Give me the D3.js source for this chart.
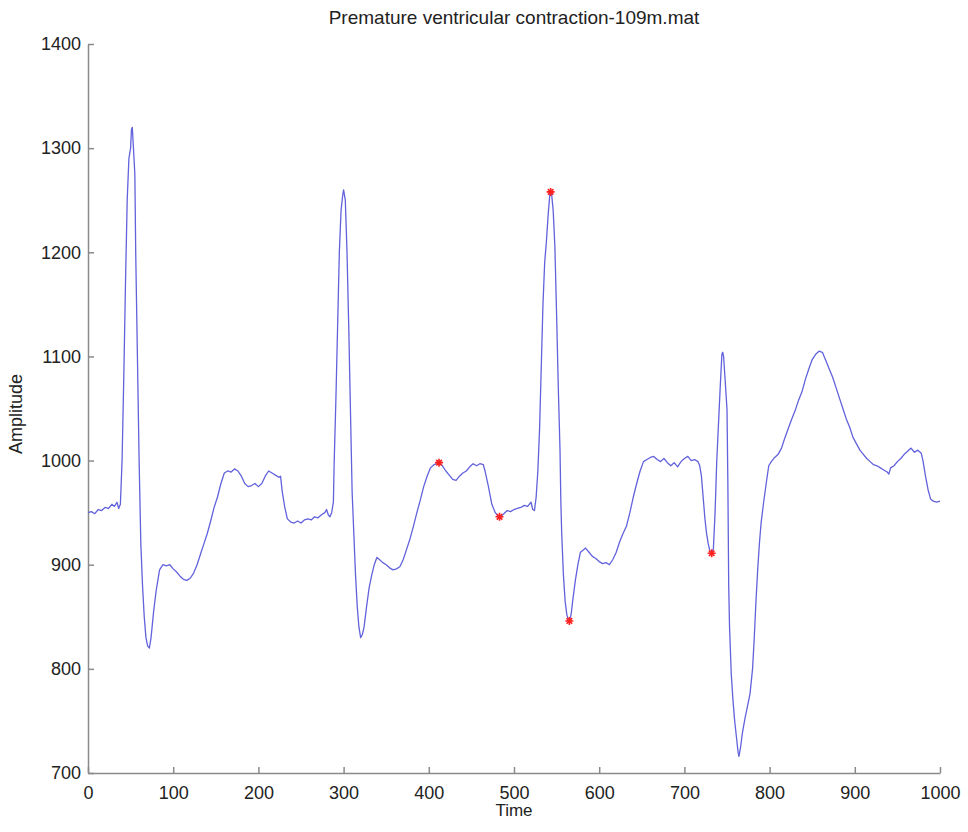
<!DOCTYPE html>
<html>
<head>
<meta charset="utf-8">
<script src="https://cdn.jsdelivr.net/npm/d3@7"></script>
<style>
  body { margin: 0; background: #fff; }
  text { font-family: "Liberation Sans", Arial, sans-serif; fill: #222; }
</style>
</head>
<body>
<div id="container"></div>
<script>
// ECG samples
const time = [0, 4, 8, 12, 16, 20, 24, 28, 31, 34, 36, 38, 40, 42, 44, 46, 48, 50, 51, 52, 53, 54, 55, 56, 58, 60, 62, 64, 66, 68, 70, 72, 74, 77, 80, 84, 88, 92, 96, 100, 104, 108, 112, 116, 120, 124, 128, 132, 136, 140, 144, 148, 152, 156, 160, 164, 168, 172, 176, 180, 184, 188, 192, 196, 200, 204, 208, 212, 216, 220, 224, 226, 228, 231, 234, 238, 242, 246, 250, 254, 258, 262, 266, 270, 274, 278, 280, 282, 284, 286, 288, 289, 291, 293, 295, 297, 299, 300, 302, 304, 306, 308, 310, 312, 314, 316, 318, 320, 322, 324, 327, 330, 333, 336, 339, 342, 346, 350, 354, 358, 362, 366, 370, 374, 378, 382, 386, 390, 394, 398, 402, 406, 410, 412, 416, 420, 424, 428, 432, 436, 440, 444, 448, 452, 456, 460, 464, 466, 470, 474, 478, 481, 484, 488, 492, 496, 500, 504, 508, 512, 516, 520, 522, 524, 526, 528, 530, 532, 534, 536, 538, 540, 542, 543, 544, 546, 548, 550, 552, 554, 555, 556, 558, 560, 562, 564, 565, 567, 569, 572, 575, 578, 581, 584, 588, 592, 596, 600, 604, 608, 612, 616, 620, 624, 628, 632, 636, 640, 644, 648, 652, 656, 660, 664, 668, 672, 676, 680, 684, 688, 692, 696, 700, 704, 708, 712, 716, 718, 720, 722, 724, 726, 728, 730, 732, 734, 736, 738, 740, 742, 744, 745, 746, 748, 750, 751, 752, 753, 755, 757, 759, 761, 763, 764, 766, 768, 771, 774, 777, 780, 782, 784, 786, 788, 790, 793, 796, 799, 802, 806, 810, 814, 818, 822, 826, 830, 834, 838, 842, 846, 850, 854, 858, 862, 864, 866, 870, 874, 878, 882, 886, 890, 894, 898, 902, 906, 910, 914, 918, 922, 926, 930, 934, 938, 940, 942, 946, 950, 954, 958, 962, 966, 970, 974, 978, 980, 983, 986, 989, 992, 996, 1000];
const amplitude = [950, 951, 949, 953, 952, 955, 954, 958, 956, 960, 954, 958, 1000, 1080, 1170, 1250, 1290, 1300, 1318, 1320, 1305, 1290, 1275, 1200, 1100, 1000, 920, 880, 850, 830, 822, 820, 830, 855, 875, 895, 900, 899, 900, 896, 893, 889, 886, 885, 887, 892, 900, 910, 920, 930, 942, 955, 965, 978, 988, 990, 989, 992, 990, 985, 978, 975, 976, 978, 975, 978, 985, 990, 988, 986, 984, 985, 970, 955, 944, 941, 940, 942, 940, 943, 944, 943, 946, 945, 948, 950, 953, 948, 946, 950, 960, 1000, 1060, 1130, 1200, 1240, 1255, 1260, 1250, 1200, 1130, 1050, 970, 930, 890, 860, 840, 830, 833, 840, 860, 878, 890, 900, 907, 905, 902, 900, 897, 895, 896, 898, 905, 915, 925, 937, 950, 962, 975, 985, 993, 996, 997, 998, 995, 990, 986, 982, 981, 985, 988, 990, 994, 997, 995, 997, 996, 990, 975, 958, 950, 947, 946, 949, 952, 951, 953, 954, 955, 957, 956, 960, 953, 952, 965, 990, 1030, 1090, 1150, 1190, 1210, 1235, 1255, 1258, 1257, 1240, 1205, 1140, 1070, 1010, 960, 930, 890, 865, 852, 847, 846, 852, 866, 885, 900, 912, 914, 916, 912, 908, 906, 903, 901, 902, 900, 905, 912, 922, 930, 937, 950, 965, 978, 990, 999, 1001, 1003, 1004, 1001, 999, 1002, 998, 995, 998, 994, 999, 1002, 1004, 1000, 1001, 999, 995, 985, 965, 945, 930, 920, 913, 911, 915, 950, 1000, 1035, 1070, 1102, 1104, 1100, 1075, 1049, 980, 880, 840, 795, 770, 750, 735, 720, 716, 725, 738, 752, 764, 776, 800, 830, 865, 895, 920, 940, 960, 978, 995, 999, 1003, 1006, 1012, 1022, 1031, 1040, 1048, 1058, 1066, 1078, 1088, 1097, 1102, 1105, 1104, 1100, 1096, 1088, 1080, 1070, 1060, 1050, 1040, 1032, 1022, 1016, 1010, 1006, 1002, 999, 996, 995, 993, 991, 989, 987, 993, 995, 999, 1002, 1006, 1009, 1012, 1008, 1010, 1007, 1000, 985, 972, 963, 961, 960, 961];

// detected points (red stars)
const markTime = [412, 483, 543, 565, 732];
const markAmp = [998, 946, 1258, 846, 911];

const xTicks = [0, 100, 200, 300, 400, 500, 600, 700, 800, 900, 1000];
const yTicks = [700, 800, 900, 1000, 1100, 1200, 1300, 1400];

const w = 968;
const h = 832;
const margin = { left: 88, right: 940, top: 44, bottom: 773 };

const svg = d3.
select("#container").
append("svg").
attr("width", w).
attr("height", h);

const xScale = d3.scaleLinear().domain([0, 1000]).range([margin.left, margin.right]);
const yScale = d3.scaleLinear().domain([700, 1400]).range([margin.bottom, margin.top]);

// axes, ticks pointing inwards like matlab
const xAxis = d3.axisBottom(xScale).tickValues(xTicks).tickFormat(d3.format("d")).
tickSizeInner(-6).tickSizeOuter(0).tickPadding(13);
const yAxis = d3.axisLeft(yScale).tickValues(yTicks).tickFormat(d3.format("d")).
tickSizeInner(-6).tickSizeOuter(0).tickPadding(7);

const gx = svg.append("g").
attr("transform", `translate(0, ${margin.bottom})`).
call(xAxis);

const gy = svg.append("g").
attr("transform", `translate(${margin.left}, 0)`).
call(yAxis);

[gx, gy].forEach(g => {
  g.selectAll("path, line").attr("stroke", "#8a8a8a").attr("stroke-width", 1.5);
  g.selectAll("text").
  style("font-family", "'Liberation Sans', Arial, sans-serif").
  style("font-size", "18px").
  attr("fill", "#333");
});

// signal
const line = d3.line().
x((d, i) => xScale(time[i])).
y(d => yScale(d));

svg.append("path").
datum(amplitude).
attr("fill", "none").
attr("stroke", "#6262dc").
attr("stroke-width", 1.3).
attr("stroke-linejoin", "round").
attr("d", line);

// star markers
const s = 4;
svg.selectAll(".mark").
data(markTime).
enter().
append("path").
attr("class", "mark").
attr("transform", (d, i) => `translate(${xScale(d)}, ${yScale(markAmp[i])})`).
attr("d", `M${-s},0H${s}M0,${-s}V${s}M${-s * 0.7},${-s * 0.7}L${s * 0.7},${s * 0.7}M${-s * 0.7},${s * 0.7}L${s * 0.7},${-s * 0.7}`).
attr("stroke", "#ff2020").
attr("stroke-width", 1.6);

// labels
const midX = (margin.left + margin.right) / 2;
svg.append("text").
attr("x", midX).
attr("y", 24).
attr("text-anchor", "middle").
style("font-size", "19px").
text("Premature ventricular contraction-109m.mat");

svg.append("text").
attr("x", midX).
attr("y", 816).
attr("text-anchor", "middle").
style("font-size", "17px").
text("Time");

svg.append("text").
attr("transform", "translate(22, 414) rotate(-90)").
attr("text-anchor", "middle").
style("font-size", "18px").
text("Amplitude");
</script>
</body>
</html>
